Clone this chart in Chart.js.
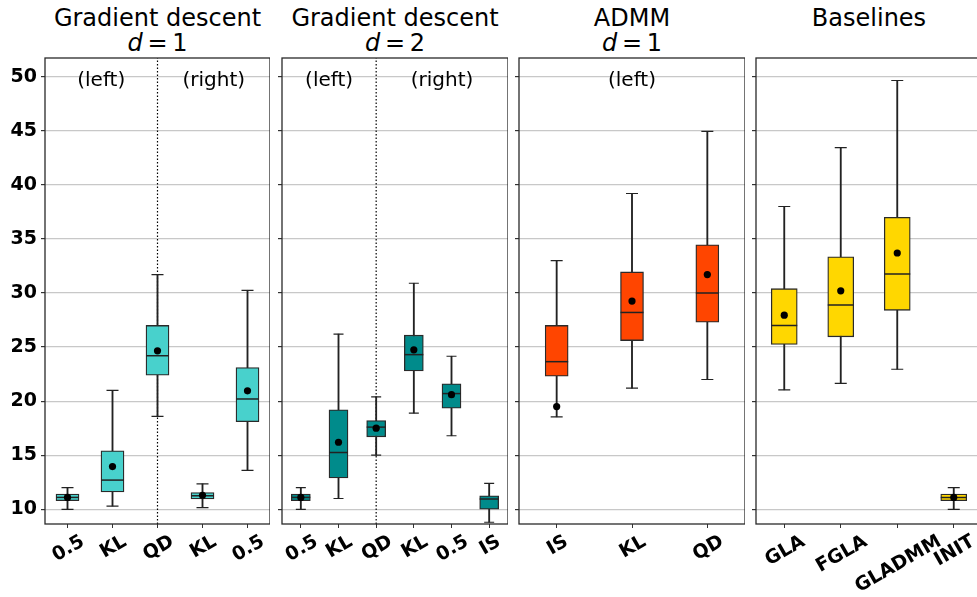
<!DOCTYPE html>
<html lang="en">
<head>
<meta charset="UTF-8" />
<title>Box plots</title>
<style>
  body { margin: 0; width: 977px; height: 597px; overflow: hidden; background: #fff; position: relative;
         font-family: "DejaVu Sans", sans-serif; }
  canvas { position: absolute; top: 38px; }
  .ttl { position: absolute; top: 5.6px; font-size: 24px; line-height: 25.6px; text-align: center; color: #000; white-space: nowrap; }
</style>
</head>
<body>
<script src="https://cdn.jsdelivr.net/npm/chart.js"></script>

<div class="ttl" style="left:45px;width:225px">Gradient descent<br><i>d</i>&thinsp;=&thinsp;1</div>
<div class="ttl" style="left:282px;width:226px">Gradient descent<br><i>d</i>&thinsp;=&thinsp;2</div>
<div class="ttl" style="left:519px;width:226px">ADMM<br><i>d</i>&thinsp;=&thinsp;1</div>
<div class="ttl" style="left:756px;width:226px">Baselines</div>

<canvas id="c1" width="270" height="559" style="left:0px"></canvas>
<canvas id="c2" width="232" height="559" style="left:276px"></canvas>
<canvas id="c3" width="232" height="559" style="left:513px"></canvas>
<canvas id="c4" width="232" height="559" style="left:750px"></canvas>

<script>
"use strict";
// y axis
const yTicks = [10, 15, 20, 25, 30, 35, 40, 45, 50];
const yMin = 8.64;
const yMax = 51.73;

// gradient descent, d = 1
const gd1Labels = ["0.5", "KL", "QD", "KL", "0.5"];
const gd1Low = [10.0, 10.3, 18.6, 10.15, 13.6];
const gd1Q1 = [10.8, 11.6, 22.4, 10.95, 18.1];
const gd1Med = [11.1, 12.7, 24.2, 11.25, 20.2];
const gd1Q3 = [11.4, 15.4, 27.0, 11.55, 23.1];
const gd1High = [12.0, 21.0, 31.7, 12.35, 30.25];
const gd1Mean = [11.1, 13.95, 24.65, 11.3, 20.95];

// gradient descent, d = 2
const gd2Labels = ["0.5", "KL", "QD", "KL", "0.5", "IS"];
const gd2Low = [10.0, 11.0, 15.0, 18.9, 16.8, 8.8];
const gd2Q1 = [10.8, 12.9, 16.7, 22.8, 19.35, 10.0];
const gd2Med = [11.1, 15.25, 17.6, 24.3, 20.7, 10.95];
const gd2Q3 = [11.4, 19.2, 18.2, 26.1, 21.6, 11.25];
const gd2High = [12.0, 26.2, 20.4, 30.9, 24.15, 12.4];
const gd2Mean = [11.1, 16.2, 17.5, 24.75, 20.6, null];

// ADMM, d = 1
const admmLabels = ["IS", "KL", "QD"];
const admmLow = [18.55, 21.2, 22.0];
const admmQ1 = [22.3, 25.6, 27.3];
const admmMed = [23.65, 28.2, 30.0];
const admmQ3 = [27.0, 31.95, 34.45];
const admmHigh = [33.0, 39.2, 44.95];
const admmMean = [19.5, 29.25, 31.7];

// baselines
const baseLabels = ["GLA", "FGLA", "GLADMM", "INIT"];
const baseLow = [21.05, 21.65, 22.95, 10.0];
const baseQ1 = [25.25, 25.95, 28.4, 10.8];
const baseMed = [27.0, 28.9, 31.75, 11.1];
const baseQ3 = [30.4, 33.35, 37.0, 11.4];
const baseHigh = [38.0, 43.45, 49.65, 12.0];
const baseMean = [27.95, 30.2, 33.7, 11.1];

Chart.defaults.font.family = "'DejaVu Sans', sans-serif";
Chart.defaults.color = "#000";

function pairs(a, b) {
  return a.map((v, i) => [v, b[i]]);
}

function makePanel(id, p) {
  const datasets = [
    {
      type: "bar", data: pairs(p.low, p.high), grouped: false, order: 6,
      backgroundColor: "#222", borderWidth: 0, barThickness: 1.2
    },
    {
      type: "bar", data: pairs(p.q1, p.q3), grouped: false, order: 5,
      backgroundColor: p.color, borderColor: "#2a2a2a", borderWidth: 1.3,
      borderSkipped: false, barThickness: p.boxW
    },
    {
      type: "line", data: p.med, showLine: false, order: 4, pointStyle: "line",
      pointRadius: p.boxW / 2, pointBorderWidth: 1.5, pointBorderColor: "#222"
    },
    {
      type: "line", data: p.low, showLine: false, order: 3, pointStyle: "line",
      pointRadius: p.capW / 2, pointBorderWidth: 1.2, pointBorderColor: "#222"
    },
    {
      type: "line", data: p.high, showLine: false, order: 3, pointStyle: "line",
      pointRadius: p.capW / 2, pointBorderWidth: 1.2, pointBorderColor: "#222"
    },
    {
      type: "line", data: p.mean, showLine: false, order: 1, pointStyle: "circle",
      pointRadius: 3.6, pointBackgroundColor: "#000", pointBorderWidth: 0
    }
  ];
  if (p.divider !== null) {
    const cat = p.labels[p.divider];
    datasets.push({
      type: "line", data: [{ x: cat, y: yMin }, { x: cat, y: yMax }],
      order: 7, borderColor: "#000", borderWidth: 1.2, borderDash: [1.5, 2],
      pointRadius: 0, fill: false
    });
  }

  const overlay = {
    id: "overlay",
    afterDraw(chart) {
      const ctx = chart.ctx;
      const area = chart.chartArea;
      const xs = chart.scales.x;
      ctx.save();
      // frame
      ctx.strokeStyle = "#2a2a2a";
      ctx.lineWidth = 1.3;
      ctx.strokeRect(area.left, area.top, area.right - area.left, area.bottom - area.top);
      // rotated category labels
      ctx.fillStyle = "#000";
      ctx.font = "bold 19px 'DejaVu Sans'";
      p.labels.forEach((lab, i) => {
        const px = xs.getPixelForValue(i);
        const w = ctx.measureText(lab).width;
        const h = 19 * 0.73;
        const bh = w * 0.5 + h * 0.866;
        const cy = area.bottom + 8.6 + bh / 2;
        ctx.save();
        ctx.translate(px, cy);
        ctx.rotate(-Math.PI / 6);
        ctx.textAlign = "center";
        ctx.textBaseline = "alphabetic";
        ctx.fillText(lab, 0, h / 2);
        ctx.restore();
      });
      // region notes
      ctx.font = "20px 'DejaVu Sans'";
      ctx.textAlign = "center";
      ctx.textBaseline = "alphabetic";
      const ty = area.top + 28;
      if (p.divider !== null) {
        const dx = xs.getPixelForValue(p.divider);
        ctx.fillText(p.notes[0], (area.left + dx) / 2, ty);
        ctx.fillText(p.notes[1], (dx + area.right) / 2, ty);
      } else if (p.notes.length) {
        ctx.fillText(p.notes[0], (area.left + area.right) / 2, ty);
      }
      ctx.restore();
    }
  };

  return new Chart(document.getElementById(id), {
    type: "bar",
    data: { labels: p.labels, datasets: datasets },
    options: {
      responsive: false,
      animation: false,
      events: [],
      layout: { autoPadding: false, padding: { top: 20, left: 0, right: 0, bottom: 0 } },
      plugins: { legend: { display: false }, tooltip: { enabled: false } },
      scales: {
        x: {
          type: "category",
          offset: true,
          grid: { offset: false, drawOnChartArea: false, drawTicks: true, tickLength: 4, tickColor: "#333" },
          border: { display: false },
          ticks: { display: false, autoSkip: false },
          afterFit: (s) => { s.height = 73; }
        },
        y: {
          type: "linear",
          min: yMin,
          max: yMax,
          grid: { color: "#c8c8c8", lineWidth: 1.2, tickLength: 4, tickColor: "#333" },
          border: { display: false },
          ticks: { display: p.yLabels, padding: 4, font: { size: 19, weight: "bold" }, color: "#000" },
          afterBuildTicks: (s) => { s.ticks = yTicks.map((v) => ({ value: v })); },
          afterFit: (s) => { s.width = p.yLabels ? 45 : 6; }
        }
      }
    },
    plugins: [overlay]
  });
}

makePanel("c1", {
  labels: gd1Labels, low: gd1Low, q1: gd1Q1, med: gd1Med, q3: gd1Q3, high: gd1High, mean: gd1Mean,
  color: "#48D1CC", boxW: 23, capW: 12, yLabels: true, divider: 2, notes: ["(left)", "(right)"]
});
makePanel("c2", {
  labels: gd2Labels, low: gd2Low, q1: gd2Q1, med: gd2Med, q3: gd2Q3, high: gd2High, mean: gd2Mean,
  color: "#008B8B", boxW: 19, capW: 10, yLabels: false, divider: 2, notes: ["(left)", "(right)"]
});
makePanel("c3", {
  labels: admmLabels, low: admmLow, q1: admmQ1, med: admmMed, q3: admmQ3, high: admmHigh, mean: admmMean,
  color: "#FF4500", boxW: 23, capW: 12, yLabels: false, divider: null, notes: ["(left)"]
});
makePanel("c4", {
  labels: baseLabels, low: baseLow, q1: baseQ1, med: baseMed, q3: baseQ3, high: baseHigh, mean: baseMean,
  color: "#FFD700", boxW: 26, capW: 12, yLabels: false, divider: null, notes: []
});
</script>
</body>
</html>
